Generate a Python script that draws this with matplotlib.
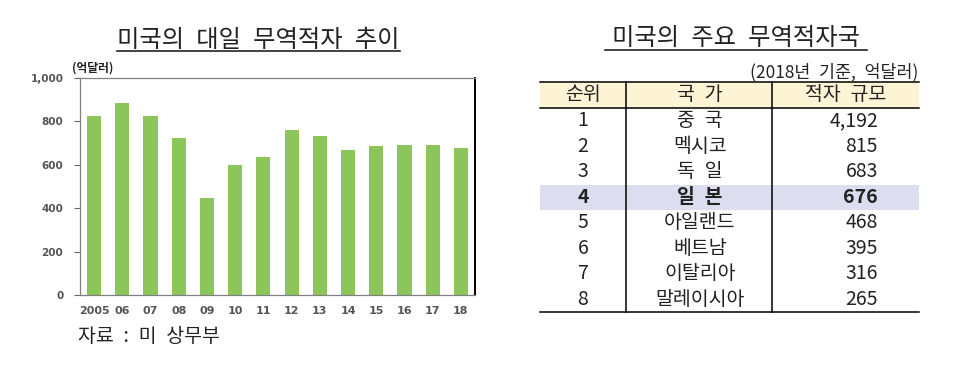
import numpy as np
import matplotlib
matplotlib.use("Agg")
import matplotlib.pyplot as plt
from matplotlib.patches import Rectangle
from matplotlib.lines import Line2D

plt.rcParams['font.family'] = ['Noto Sans CJK KR', 'DejaVu Sans']

# DATA ---------------------------------------------------------
years = ["2005", "06", "07", "08", "09", "10", "11", "12", "13", "14", "15", "16", "17", "18"]
deficit_japan = [823, 885, 826, 725, 446, 601, 634, 761, 735, 668, 688, 689, 689, 676]
y_ticks = [0, 200, 400, 600, 800, 1000]
y_tick_labels = ["0", "200", "400", "600", "800", "1,000"]

ranks = ["1", "2", "3", "4", "5", "6", "7", "8"]
countries = ["중 국", "멕시코", "독 일", "일 본", "아일랜드", "베트남", "이탈리아", "말레이시아"]
deficits = [4192, 815, 683, 676, 468, 395, 316, 265]
header = ["순위", "국 가", "적자 규모"]
highlight = "일 본"


def wide(s):
    # Noto's space is narrow, the original font has a wider one
    return s.replace(" ", "\u2002")


W, H = 973, 376
fig = plt.figure(figsize=(W / 100, H / 100), dpi=100)

# BAR CHART ----------------------------------------------------
ax = fig.add_axes([80 / W, 1 - 295 / H, 395 / W, 217 / H])
x = np.arange(len(years))
ax.bar(x, deficit_japan, width=0.5, color="#8cc55a")
ax.set_xlim(-0.5, len(years) - 0.5)
ax.set_ylim(0, 1000)
ax.set_yticks(y_ticks)
ax.set_yticklabels(y_tick_labels, family="DejaVu Sans", fontsize=7.5,
                   fontweight="bold", color="#555555")
ax.set_xticks(x)
ax.set_xticklabels(years, family="DejaVu Sans", fontsize=8,
                   fontweight="bold", color="#555555")
ax.tick_params(axis="x", length=0, pad=8)
ax.tick_params(axis="y", length=4, width=0.8, color="#666666", pad=8)
for s in ["left", "top", "bottom"]:
    ax.spines[s].set_color("#808080")
    ax.spines[s].set_linewidth(0.9)
ax.spines["right"].set_color("black")
ax.spines["right"].set_linewidth(1.4)

# overlay axes in pixel coords for titles and the table
ov = fig.add_axes([0, 0, 1, 1])
ov.set_xlim(0, W)
ov.set_ylim(H, 0)
ov.axis("off")
ov.set_zorder(-1)

ov.text(258, 40, wide("미국의 대일 무역적자 추이"), fontsize=17.5, ha="center", va="center", color="#222222")
ov.add_line(Line2D([117, 400], [51, 51], color="#222222", lw=1.2))
ov.text(72, 68, "(억달러)", fontsize=8.5, fontweight="bold", ha="left", va="center", color="#222222")
ov.text(78, 337, wide("자료 : 미 상무부"), fontsize=14, ha="left", va="center", color="#222222")

# TABLE --------------------------------------------------------
ov.text(736, 38, wide("미국의 주요 무역적자국"), fontsize=17.5, ha="center", va="center", color="#222222")
ov.add_line(Line2D([605, 867], [50, 50], color="#222222", lw=1.2))
ov.text(918, 72, wide("(2018년 기준, 억달러)"), fontsize=12.5, ha="right", va="center", color="#222222")

left, right = 540, 919
col1, col2 = 626, 772
top, head_bot = 82, 108
row_h = 25.5
bottom = head_bot + row_h * len(ranks)

ov.add_patch(Rectangle((left, top), right - left, head_bot - top, color="#fdf3d5", lw=0))
for i, c in enumerate(countries):
    if c == highlight:
        ov.add_patch(Rectangle((left, head_bot + i * row_h), right - left, row_h,
                               color="#dcdef0", lw=0))

for yy in [top, head_bot, bottom]:
    ov.add_line(Line2D([left, right], [yy, yy], color="black", lw=1.1))
for xx in [col1, col2]:
    ov.add_line(Line2D([xx, xx], [top, bottom], color="black", lw=1.1))

hy = (top + head_bot) / 2
ov.text(583, hy, wide(header[0]), fontsize=14, ha="center", va="center", color="#222222")
ov.text(700, hy, wide(header[1]), fontsize=14, ha="center", va="center", color="#222222")
ov.text(846, hy, wide(header[2]), fontsize=14, ha="center", va="center", color="#222222")

for i, (r, c, d) in enumerate(zip(ranks, countries, deficits)):
    cy = head_bot + (i + 0.5) * row_h
    fw = "bold" if c == highlight else "normal"
    ov.text(583, cy, r, fontsize=14, ha="center", va="center", fontweight=fw, color="#222222")
    ov.text(700, cy, wide(c), fontsize=14, ha="center", va="center", fontweight=fw, color="#222222")
    ov.text(878, cy, f"{d:,}", fontsize=14, ha="right", va="center", fontweight=fw, color="#222222")

fig.savefig("out.png", dpi=100)
